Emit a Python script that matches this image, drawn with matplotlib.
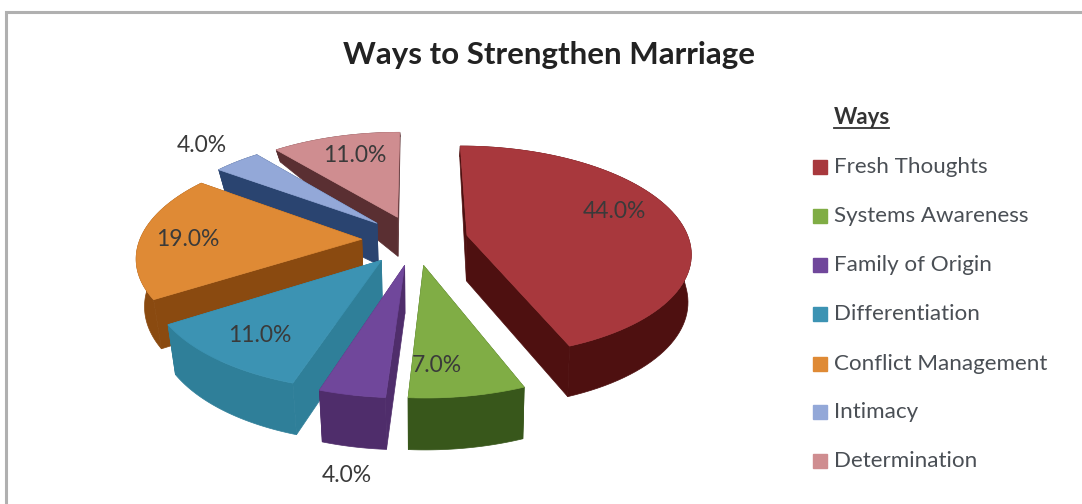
import numpy as np
import matplotlib
matplotlib.use("Agg")
import matplotlib.pyplot as plt
from matplotlib.patches import Polygon

categories = ["Fresh Thoughts", "Systems Awareness", "Family of Origin", "Differentiation",
              "Conflict Management", "Intimacy", "Determination"]
values = [44.0, 7.0, 4.0, 11.0, 19.0, 4.0, 11.0]

top_colors = ["#a8383d", "#80ad45", "#70479b", "#3c93b3", "#df8a35", "#93a8d8", "#cf8d90"]
side_colors = ["#4e1010", "#38571b", "#4f2d6b", "#2f7f99", "#8a4a10", "#2a4470", "#5a2f32"]

plt.rcParams["font.family"] = ["Lato", "DejaVu Sans"]

CX, CY = 415, 240       # centre of the pie on the canvas
RX, RY = 222, 104       # ground plane radii
PERSP = 0.15            # how fast the far side shrinks
EXPLODE = 0.24


def project(x, y):
    w = 1 + PERSP * y
    return CX + RX * x / w, CY - RY * y / w


def depth(y):
    return np.where(y > 0, 47 - 35 * y, 47 - 4 * y)


fig = plt.figure(figsize=(10.82, 5.04), dpi=100)
ax = fig.add_axes([0, 0, 1, 1])
ax.set_xlim(0, 1082)
ax.set_ylim(504, 0)
ax.axis("off")

# chart frame, only the top and left edges are inside the canvas
ax.plot([5.5, 5.5, 1082], [504, 12, 12], color="#b0b0b0", linewidth=2.2, solid_joinstyle="miter")

ax.text(549, 55, "Ways to Strengthen Marriage", fontsize=22.5, fontweight="bold",
        color="#222222", ha="center", va="center")

# slices clockwise from twelve o'clock
total = sum(values)
edges = np.cumsum([0] + values) / total * 2 * np.pi
slices = []
for i in range(len(values)):
    a0, a1 = edges[i], edges[i + 1]
    mid = (a0 + a1) / 2
    ox, oy = EXPLODE * np.sin(mid), EXPLODE * np.cos(mid)
    t = np.linspace(a0, a1, 80)
    gx = np.concatenate([[ox], ox + np.sin(t)])
    gy = np.concatenate([[oy], oy + np.cos(t)])
    slices.append((oy, i, gx, gy))

# far slices first so the near ones sit on top
for oy, i, gx, gy in sorted(slices, key=lambda s: -s[0]):
    sx, sy = project(gx, gy)
    # bottom rim pulls in towards the centre, more on the left side
    bx = sx + (CX - sx) * np.where(sx < CX, 0.03, 0.012)
    by = sy + depth(gy)
    walls = [
        np.column_stack([[sx[0], sx[1], bx[1], bx[0]], [sy[0], sy[1], by[1], by[0]]]),
        np.column_stack([[sx[0], sx[-1], bx[-1], bx[0]], [sy[0], sy[-1], by[-1], by[0]]]),
        np.column_stack([np.r_[sx[1:], bx[:0:-1]], np.r_[sy[1:], by[:0:-1]]]),
    ]
    for wall in walls:
        ax.add_patch(Polygon(wall, closed=True, facecolor=side_colors[i], edgecolor=side_colors[i],
                             linewidth=0.5))
    ax.add_patch(Polygon(np.column_stack([sx, sy]), closed=True, facecolor=top_colors[i],
                         edgecolor=top_colors[i], linewidth=0.5))

label_pos = [(614, 211), (437, 365), (347, 476), (260, 335), (188, 240), (202, 145), (355, 155)]
for v, (lx, ly) in zip(values, label_pos):
    ax.text(lx, ly, f"{v:.1f}%", fontsize=16.5, color="#3a3a3a", ha="center", va="center")

# legend
ax.text(834, 118, "Ways", fontsize=16, fontweight="bold", color="#333333", ha="left", va="center")
ax.plot([834, 889], [128, 128], color="#333333", linewidth=1.3)
legend_y = [167, 216, 265, 314, 364, 412, 461]
for name, c, ly in zip(categories, top_colors, legend_y):
    ax.plot(820, ly, marker="s", markersize=10, color=c, linestyle="none")
    ax.text(834, ly, name, fontsize=16.1, color="#4a4f55", ha="left", va="center")

fig.savefig("out.png", dpi=100)
